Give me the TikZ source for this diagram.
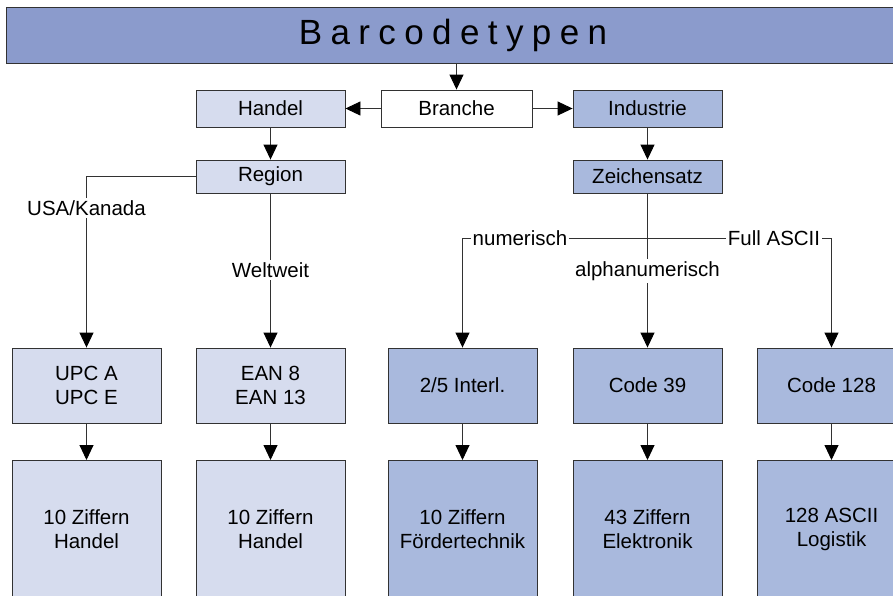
\documentclass[tikz,border=0pt]{standalone}
\usepackage{fontspec}
\setmainfont{Liberation Sans}
\newfontfamily\titlefont[LetterSpace=24]{Liberation Sans}
\usetikzlibrary{arrows.meta}
\definecolor{titleblue}{RGB}{139,155,204}
\definecolor{midblue}{RGB}{169,185,221}
\definecolor{lightblue}{RGB}{214,220,238}
\definecolor{linegray}{RGB}{50,50,50}
\begin{document}
\begin{tikzpicture}[x=1pt,y=-1pt,
  box/.style={draw=linegray, line width=0.9pt, minimum width=149pt, inner sep=0pt,
    font=\fontsize{20.5}{24}\selectfont, align=center, text=black},
  lbox/.style={box, fill=lightblue},
  mbox/.style={box, fill=midblue},
  wbox/.style={box, fill=white, minimum width=151pt},
  small/.style={minimum height=37pt},
  tiny/.style={minimum height=33pt},
  mid/.style={minimum height=75pt},
  tall/.style={minimum height=138pt},
  arr/.style={draw=linegray, line width=0.9pt, -{Triangle[length=15pt,width=14pt,color=black]}},
  lbl/.style={fill=white, inner sep=2pt, font=\fontsize{20.5}{24}\selectfont, text=black}
]
\clip (0,0) rectangle (893,595);
\fill[white] (0,0) rectangle (893,595);

\node[draw=linegray, line width=0.9pt, fill=titleblue, minimum width=894pt, minimum height=56pt, inner sep=0pt,
  font=\titlefont\fontsize{35}{40}\selectfont] (title) at (453,35) {Barcodetypen\hspace{-0.24em}};

\node[wbox, small] (branche) at (456.5,108.5) {Branche};
\node[lbox, small] (handel) at (270.5,108.5) {Handel};
\node[mbox, small] (industrie) at (647.5,108.5) {Industrie};
\node[lbox, tiny] (region) at (270.5,176.5) {Region};
\node[mbox, tiny] (zs) at (647.5,176.5) {Zeichensatz};

\node[lbox, mid] (upc) at (86.5,385.5) {UPC A\\UPC E};
\node[lbox, mid] (ean) at (270.5,385.5) {EAN 8\\EAN 13};
\node[mbox, mid] (il) at (462.5,385.5) {2/5 Interl.};
\node[mbox, mid] (c39) at (647.5,385.5) {Code 39};
\node[mbox, mid] (c128) at (831.5,385.5) {Code 128};

\node[lbox, tall, anchor=north] (z1) at (86.5,460) {10 Ziffern\\Handel};
\node[lbox, tall, anchor=north] (z2) at (270.5,460) {10 Ziffern\\Handel};
\node[mbox, tall, anchor=north] (z3) at (462.5,460) {10 Ziffern\\Fördertechnik};
\node[mbox, tall, anchor=north] (z4) at (647.5,460) {43 Ziffern\\Elektronik};
\node[mbox, tall, anchor=north] (z5) at (831.5,460) {128 ASCII\\Logistik};

\coordinate (tb) at (title.south -| branche.north);
\draw[arr] (tb) -- (branche.north);
\draw[arr] (branche.west) -- (handel.east);
\draw[arr] (branche.east) -- (industrie.west);
\draw[arr] (handel.south) -- (region.north);
\draw[arr] (industrie.south) -- (zs.north);
\draw[arr] (region.west) -| (upc.north);
\draw[arr] (region.south) -- (ean.north);
\coordinate (jn) at (647.5,238);
\draw[arr] (zs.south) -- (c39.north);
\draw[arr] (jn) -| (il.north);
\draw[arr] (jn) -| (c128.north);

\foreach \a/\b in {upc/z1, ean/z2, il/z3, c39/z4, c128/z5}
  \draw[arr] (\a.south) -- (\b.north);

\node[lbl] (l1) at (86.5,208) {USA/Kanada};
\node[lbl] (l2) at (270.5,270) {Weltweit};
\node[lbl] (l3) at (520,238) {numerisch};
\node[lbl] (l4) at (647.5,271) {alphanumerisch};
\node[lbl] (l5) at (774,238) {Full ASCII};
\end{tikzpicture}
\end{document}
